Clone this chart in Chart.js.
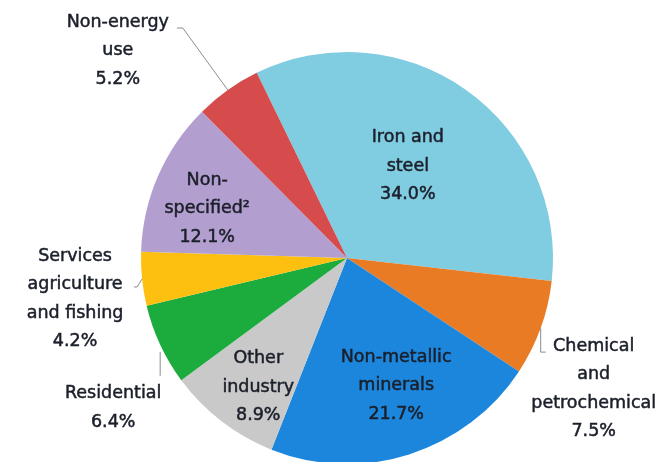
<!DOCTYPE html>
<html>
<head>
<meta charset="utf-8">
<script src="https://cdn.jsdelivr.net/npm/chart.js@4.4.1/dist/chart.umd.min.js"></script>
<style>
  html, body { margin: 0; padding: 0; background: #fff; overflow: hidden; }
  #wrap { width: 666px; height: 480px; }
</style>
</head>
<body>
<div id="wrap"><canvas id="pie" width="666" height="480"></canvas></div>
<script>
const sectors = ['Iron and steel', 'Chemical and petrochemical', 'Non-metallic minerals', 'Other industry',
  'Residential', 'Services agriculture and fishing', 'Non-specified²', 'Non-energy use'];
const shares = [34.0, 7.5, 21.7, 8.9, 6.4, 4.2, 12.1, 5.2];
const labelLines = [['Iron and', 'steel'], ['Chemical', 'and', 'petrochemical'], ['Non-metallic', 'minerals'],
  ['Other', 'industry'], ['Residential'], ['Services', 'agriculture', 'and fishing'], ['Non-', 'specified²'], ['Non-energy', 'use']];
const colors = ['#80cce0', '#ea7b25', '#1c86dc', '#c9c9c9', '#1cab3d', '#fdc010', '#b39fcf', '#d64b4b'];

// where each label goes: inside (radius fraction + angle nudge) or outside (offset from rim + leader path)
const place = [
  { inside: true, rf: 0.535, dAng: -1.7 },
  { dx: 53, dy: 18, lead: [[0, 0], [0, 24], [5, 24]] },
  { inside: true, rf: 0.665, dAng: -3.5 },
  { inside: true, rf: 0.76, dAng: -3 },
  { dx: -47, dy: 49, lead: [[0, 7], [0, 31]] },
  { dx: -67, dy: -23, lead: [[0, 0], [-5, 8], [-8, 8]] },
  { inside: true, rf: 0.72, dAng: -4 },
  { dx: -110, dy: -68, lead: [[0, 0], [-45, -62], [-51, -62]] }
];

const LINE_H = 28.5;

const pieLabels = {
  id: 'pieLabels',
  afterDatasetsDraw(chart) {
    const ctx = chart.ctx;
    const meta = chart.getDatasetMeta(0);
    ctx.save();
    ctx.font = '17.5px "DejaVu Sans"';
    ctx.textAlign = 'center';
    ctx.textBaseline = 'middle';
    meta.data.forEach((arc, i) => {
      const p = arc.getProps(['x', 'y', 'startAngle', 'endAngle', 'outerRadius'], true);
      const mid = (p.startAngle + p.endAngle) / 2;
      const lines = labelLines[i].concat([shares[i].toFixed(1) + '%']);
      const cfg = place[i];
      let cx, top;
      if (cfg.inside) {
        const a = mid + cfg.dAng * Math.PI / 180;
        cx = p.x + Math.cos(a) * p.outerRadius * cfg.rf;
        const cy = p.y + Math.sin(a) * p.outerRadius * cfg.rf;
        top = cy - (lines.length - 1) * LINE_H / 2;
      } else {
        const ex = p.x + Math.cos(mid) * p.outerRadius;
        const ey = p.y + Math.sin(mid) * p.outerRadius;
        ctx.strokeStyle = '#8c8c8c';
        ctx.lineWidth = 1;
        ctx.beginPath();
        cfg.lead.forEach(([lx, ly], k) => {
          if (k === 0) ctx.moveTo(ex + lx, ey + ly); else ctx.lineTo(ex + lx, ey + ly);
        });
        ctx.stroke();
        cx = ex + cfg.dx;
        top = ey + cfg.dy;
      }
      ctx.fillStyle = '#1b1f2a';
      ctx.strokeStyle = '#1b1f2a';
      ctx.lineWidth = 0.5;
      lines.forEach((t, k) => {
        ctx.fillText(t, cx, top + k * LINE_H);
        ctx.strokeText(t, cx, top + k * LINE_H);
      });
    });
    ctx.restore();
  }
};

new Chart(document.getElementById('pie'), {
  type: 'pie',
  data: {
    labels: sectors,
    datasets: [{ data: shares, backgroundColor: colors, borderWidth: 0 }]
  },
  options: {
    responsive: false,
    animation: false,
    rotation: -26,
    layout: { padding: { top: 52, bottom: 16, left: 141, right: 113 } },
    plugins: { legend: { display: false }, tooltip: { enabled: false } }
  },
  plugins: [pieLabels]
});
</script>
</body>
</html>
